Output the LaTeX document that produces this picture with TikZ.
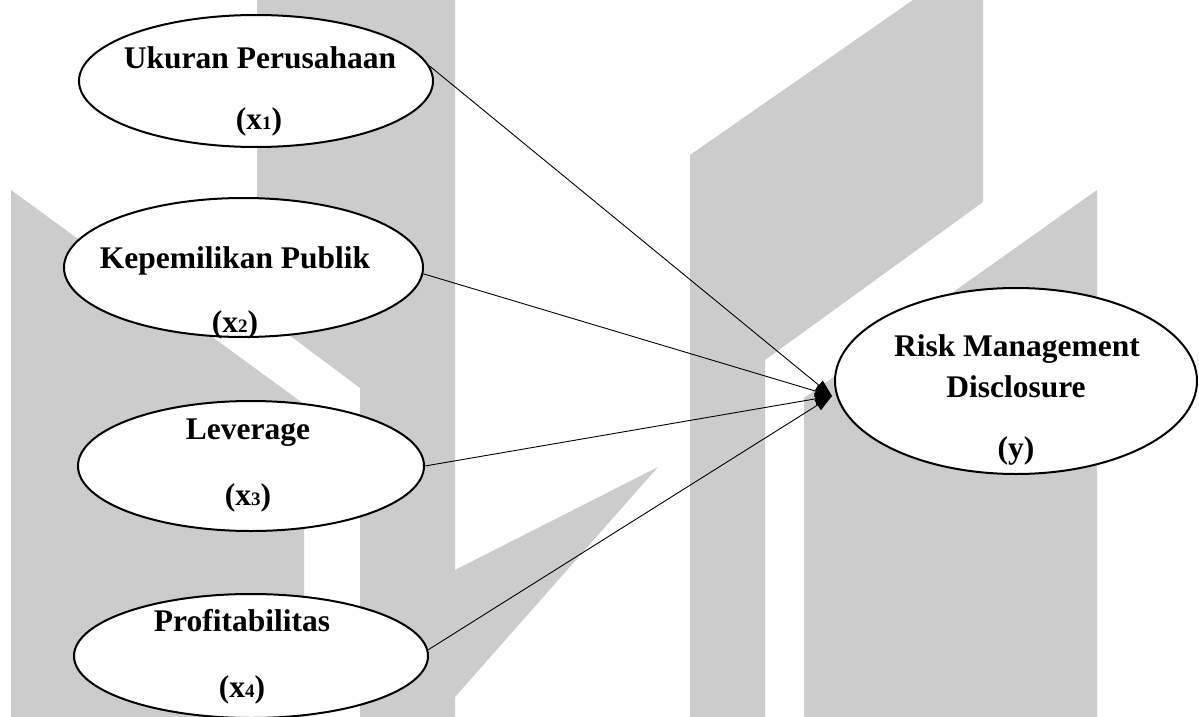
\documentclass[tikz,border=0pt]{standalone}
\usepackage{fontspec}
\setmainfont{Liberation Serif}
\usetikzlibrary{arrows.meta,shapes.geometric}
\definecolor{wm}{HTML}{CCCCCC}
\newcommand\subdig[1]{{\fontsize{19}{19}\selectfont #1}}
\begin{document}
\begin{tikzpicture}[x=1pt,y=-1pt,
  var/.style={draw,ellipse,line width=2pt,fill=white,inner sep=0pt},
  lbl/.style={font=\fontsize{31.5}{36}\selectfont\bfseries,anchor=base,inner sep=0pt},
  arr/.style={line width=0.9pt,-{Triangle[length=17pt,width=12pt]}}]
\useasboundingbox (0,0) rectangle (1199,717);
\fill[white] (0,0) rectangle (1199,717);
% watermark
\fill[wm] (11,190) -- (304,404) -- (304,717) -- (11,717) -- cycle;
\fill[wm] (257,0) -- (455,0) -- (455,717) -- (360,717) -- (360,388) -- (257,311) -- cycle;
\fill[wm] (455,570) -- (658,467) -- (455,697) -- cycle;
\fill[wm] (690,155) -- (913,0) -- (983,0) -- (983,202) -- (765,360) -- (765,717) -- (690,717) -- cycle;
\fill[wm] (1097,190) -- (1097,717) -- (804,717) -- (804,398) -- cycle;
% ellipses
\node[var,minimum width=354pt,minimum height=132pt] (e1) at (256,81) {};
\node[var,minimum width=359pt,minimum height=139pt] (e2) at (243.5,267.5) {};
\node[var,minimum width=346pt,minimum height=130pt] (e3) at (251,466) {};
\node[var,minimum width=354pt,minimum height=124pt] (e4) at (251,656) {};
\node[var,minimum width=362pt,minimum height=186pt] (ey) at (1016,381) {};
% labels
\node[lbl] (t1a) at (260,68) {Ukuran Perusahaan};
\node[lbl] (t1b) at (259,129) {(x\subdig{1})};
\node[lbl] (t2a) at (235,268) {Kepemilikan Publik};
\node[lbl] (t2b) at (235,332) {(x\subdig{2})};
\node[lbl] (t3a) at (248,439) {Leverage};
\node[lbl] (t3b) at (248,505) {(x\subdig{3})};
\node[lbl] (t4a) at (242,631) {Profitabilitas};
\node[lbl] (t4b) at (242,697) {(x\subdig{4})};
\node[lbl] (t5a) at (1017,356) {Risk Management};
\node[lbl] (t5b) at (1016,397) {Disclosure};
\node[lbl] (t5c) at (1016,458) {(y)};
% connectors
\coordinate (tip) at (832,396);
\draw[arr] (e1.5) -- (tip);
\draw[arr] (e2.-2) -- (tip);
\draw[arr] (e3.east) -- (tip);
\draw[arr] (e4.2) -- (tip);
\end{tikzpicture}
\end{document}
